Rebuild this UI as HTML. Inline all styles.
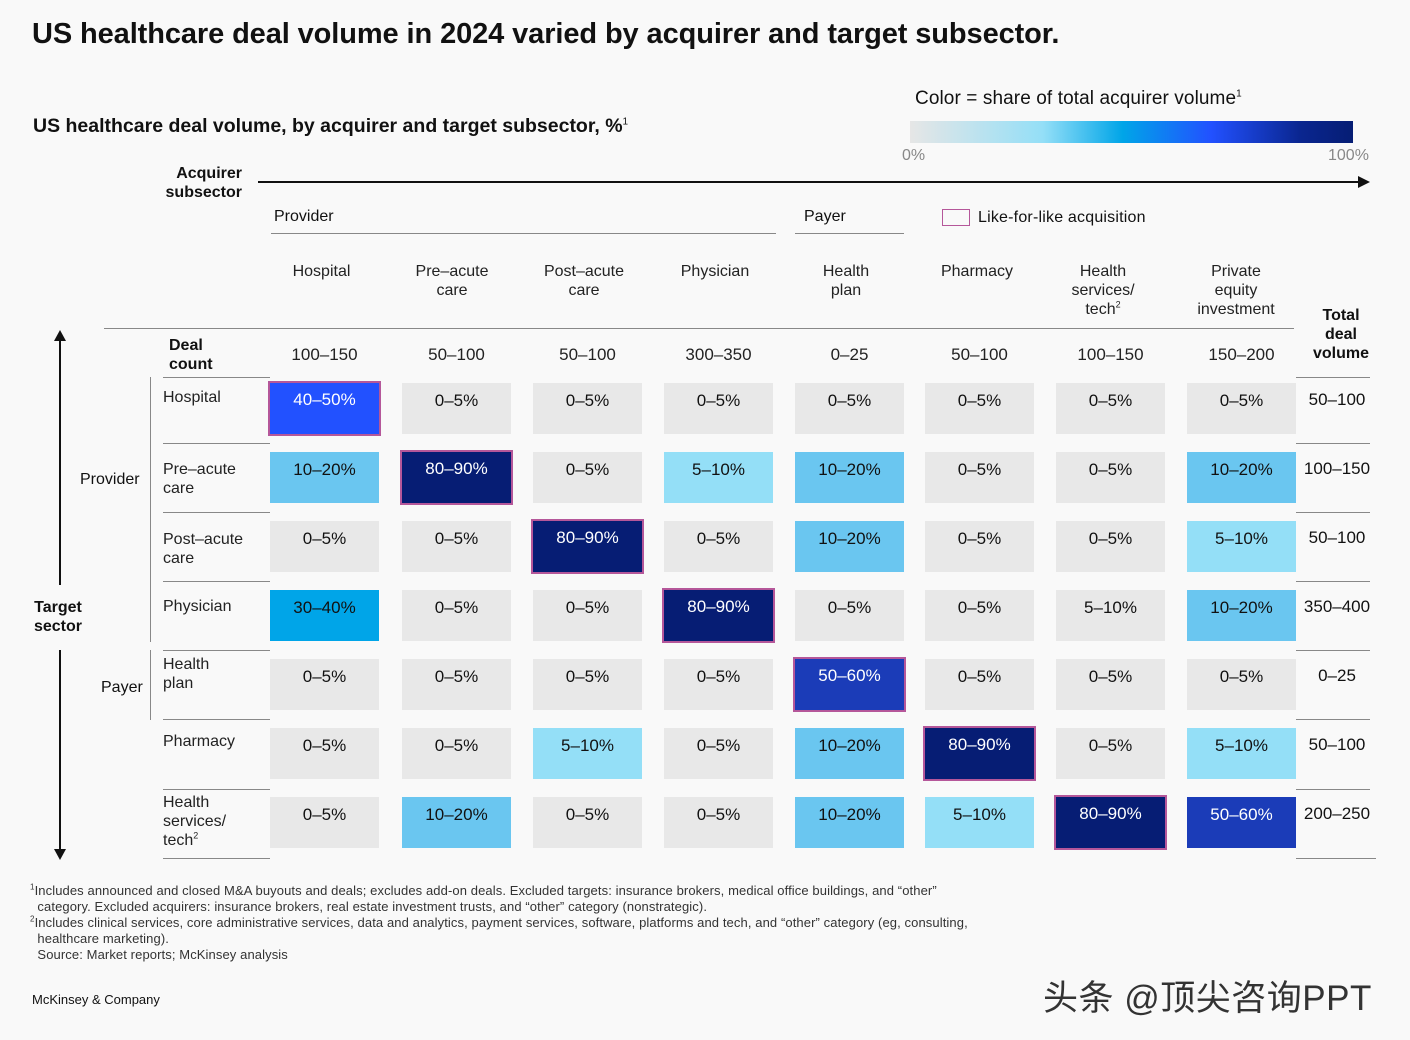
<!DOCTYPE html><html><head><meta charset="utf-8"><style>
body{margin:0;width:1410px;height:1040px;background:#f9f9f9;font-family:"Liberation Sans",Arial,sans-serif;color:#111;position:relative;overflow:hidden}
div{position:absolute}
.c{width:109px;height:51px;text-align:center;font-size:17px;line-height:35px;background:#e8e8e8;box-sizing:border-box}
.w{color:#fff}.b{border:2px solid #b5579a;line-height:33px}
.l5{background:#94dff7}.l10{background:#6ac6f0}.l30{background:#00a5e8;}.l40{background:#2251ff}.l50{background:#1b3cb8}.l80{background:#061d74}
.h{font-size:16px;text-align:center;line-height:19px;color:#222}
.r{font-size:16px;line-height:19px;color:#222}
.ln{height:1px;background:#888}
.t{font-size:17px;width:90px;text-align:center;left:1292px}
sup{line-height:0}
</style></head><body>
<div style="left:32px;top:18px;font-size:29px;font-weight:bold;letter-spacing:-0.1px">US healthcare deal volume in 2024 varied by acquirer and target subsector.</div>
<div style="left:33px;top:115px;font-size:19.5px;font-weight:bold;letter-spacing:0px">US healthcare deal volume, by acquirer and target subsector, %<sup style="font-size:10px;font-weight:normal">1</sup></div>
<div style="left:915px;top:88px;font-size:19px;letter-spacing:0.1px">Color = share of total acquirer volume<sup style="font-size:10px">1</sup></div>
<div style="left:910px;top:121px;width:443px;height:22px;background:linear-gradient(90deg,#e6e6e6 0%,#94dff7 30%,#00a5e8 48%,#2251ff 68%,#0a2690 88%,#061d74 100%)"></div>
<div style="left:902px;top:147px;font-size:16px;color:#888">0%</div>
<div style="left:1328px;top:147px;font-size:16px;color:#888">100%</div>
<div style="left:150px;top:164px;font-size:16px;font-weight:bold;text-align:right;width:92px;line-height:19px">Acquirer<br>subsector</div>
<div style="left:258px;top:181px;width:1100px;height:1.5px;background:#111"></div>
<div style="left:1358px;top:176px;width:0;height:0;border-left:12px solid #111;border-top:6px solid transparent;border-bottom:6px solid transparent"></div>
<div style="left:274px;top:208px;font-size:16px">Provider</div>
<div style="left:271px;top:233px;width:505px" class="ln"></div>
<div style="left:804px;top:208px;font-size:16px">Payer</div>
<div style="left:795px;top:233px;width:109px" class="ln"></div>
<div style="left:942px;top:209px;width:26px;height:15px;border:1.5px solid #b5579a"></div>
<div style="left:978px;top:209px;font-size:16px;letter-spacing:0.2px">Like-for-like acquisition</div>
<div class="h" style="left:270px;top:262px;width:103px">Hospital</div>
<div class="h" style="left:402px;top:262px;width:100px">Pre–acute<br>care</div>
<div class="h" style="left:533px;top:262px;width:102px">Post–acute<br>care</div>
<div class="h" style="left:664px;top:262px;width:102px">Physician</div>
<div class="h" style="left:795px;top:262px;width:102px">Health<br>plan</div>
<div class="h" style="left:925px;top:262px;width:104px">Pharmacy</div>
<div class="h" style="left:1056px;top:262px;width:94px">Health<br>services/<br>tech<sup style="font-size:9px">2</sup></div>
<div class="h" style="left:1187px;top:262px;width:98px">Private<br>equity<br>investment</div>
<div style="left:1300px;top:306px;width:82px;font-size:16px;font-weight:bold;text-align:center;line-height:19px">Total<br>deal<br>volume</div>
<div style="left:104px;top:328px;width:1190px" class="ln"></div>
<div style="left:169px;top:336px;font-size:16px;font-weight:bold;line-height:19px">Deal<br>count</div>
<div style="left:163px;top:377px;width:107px" class="ln"></div>
<div style="left:1296px;top:377px;width:74px" class="ln"></div>
<div class="h" style="left:270px;top:345px;width:109px;font-size:17px">100–150</div>
<div class="h" style="left:402px;top:345px;width:109px;font-size:17px">50–100</div>
<div class="h" style="left:533px;top:345px;width:109px;font-size:17px">50–100</div>
<div class="h" style="left:664px;top:345px;width:109px;font-size:17px">300–350</div>
<div class="h" style="left:795px;top:345px;width:109px;font-size:17px">0–25</div>
<div class="h" style="left:925px;top:345px;width:109px;font-size:17px">50–100</div>
<div class="h" style="left:1056px;top:345px;width:109px;font-size:17px">100–150</div>
<div class="h" style="left:1187px;top:345px;width:109px;font-size:17px">150–200</div>
<div style="left:59px;top:340px;width:1.5px;height:245px;background:#111"></div>
<div style="left:54px;top:330px;border-bottom:11px solid #111;border-left:6px solid transparent;border-right:6px solid transparent"></div>
<div style="left:59px;top:650px;width:1.5px;height:200px;background:#111"></div>
<div style="left:54px;top:849px;border-top:11px solid #111;border-left:6px solid transparent;border-right:6px solid transparent"></div>
<div style="left:22px;top:598px;width:72px;text-align:center;font-size:16px;font-weight:bold;line-height:19px">Target<br>sector</div>
<div style="left:80px;top:471px;font-size:16px">Provider</div>
<div style="left:101px;top:679px;font-size:16px">Payer</div>
<div style="left:150px;top:377px;width:1px;height:265px;background:#888"></div>
<div style="left:150px;top:650px;width:1px;height:70px;background:#888"></div>
<div class="r" style="left:163px;top:388px">Hospital</div>
<div class="r" style="left:163px;top:460px">Pre–acute<br>care</div>
<div class="r" style="left:163px;top:530px">Post–acute<br>care</div>
<div class="r" style="left:163px;top:597px">Physician</div>
<div class="r" style="left:163px;top:655px">Health<br>plan</div>
<div class="r" style="left:163px;top:732px">Pharmacy</div>
<div class="r" style="left:163px;top:793px">Health<br>services/<br>tech<sup style="font-size:9px">2</sup></div>
<div class="ln" style="left:163px;top:443px;width:107px"></div><div class="ln" style="left:1296px;top:443px;width:74px"></div>
<div class="ln" style="left:163px;top:512px;width:107px"></div><div class="ln" style="left:1296px;top:512px;width:74px"></div>
<div class="ln" style="left:163px;top:581px;width:107px"></div><div class="ln" style="left:1296px;top:581px;width:74px"></div>
<div class="ln" style="left:163px;top:650px;width:107px"></div><div class="ln" style="left:1296px;top:650px;width:74px"></div>
<div class="ln" style="left:163px;top:719px;width:107px"></div><div class="ln" style="left:1296px;top:719px;width:74px"></div>
<div class="ln" style="left:163px;top:789px;width:107px"></div><div class="ln" style="left:1296px;top:789px;width:74px"></div>
<div class="ln" style="left:163px;top:858px;width:107px"></div><div class="ln" style="left:1296px;top:858px;width:80px"></div>
<div class="c l40 w b" style="left:268px;top:381px;width:113px;height:55px">40–50%</div>
<div class="c" style="left:402px;top:383px">0–5%</div><div class="c" style="left:533px;top:383px">0–5%</div><div class="c" style="left:664px;top:383px">0–5%</div><div class="c" style="left:795px;top:383px">0–5%</div><div class="c" style="left:925px;top:383px">0–5%</div><div class="c" style="left:1056px;top:383px">0–5%</div><div class="c" style="left:1187px;top:383px">0–5%</div>
<div class="t" style="top:390px">50–100</div>
<div class="c l10" style="left:270px;top:452px">10–20%</div>
<div class="c l80 w b" style="left:400px;top:450px;width:113px;height:55px">80–90%</div>
<div class="c" style="left:533px;top:452px">0–5%</div><div class="c l5" style="left:664px;top:452px">5–10%</div><div class="c l10" style="left:795px;top:452px">10–20%</div><div class="c" style="left:925px;top:452px">0–5%</div><div class="c" style="left:1056px;top:452px">0–5%</div><div class="c l10" style="left:1187px;top:452px">10–20%</div>
<div class="t" style="top:459px">100–150</div>
<div class="c" style="left:270px;top:521px">0–5%</div><div class="c" style="left:402px;top:521px">0–5%</div>
<div class="c l80 w b" style="left:531px;top:519px;width:113px;height:55px">80–90%</div>
<div class="c" style="left:664px;top:521px">0–5%</div><div class="c l10" style="left:795px;top:521px">10–20%</div><div class="c" style="left:925px;top:521px">0–5%</div><div class="c" style="left:1056px;top:521px">0–5%</div><div class="c l5" style="left:1187px;top:521px">5–10%</div>
<div class="t" style="top:528px">50–100</div>
<div class="c l30" style="left:270px;top:590px">30–40%</div><div class="c" style="left:402px;top:590px">0–5%</div><div class="c" style="left:533px;top:590px">0–5%</div>
<div class="c l80 w b" style="left:662px;top:588px;width:113px;height:55px">80–90%</div>
<div class="c" style="left:795px;top:590px">0–5%</div><div class="c" style="left:925px;top:590px">0–5%</div><div class="c" style="left:1056px;top:590px">5–10%</div><div class="c l10" style="left:1187px;top:590px">10–20%</div>
<div class="t" style="top:597px">350–400</div>
<div class="c" style="left:270px;top:659px">0–5%</div><div class="c" style="left:402px;top:659px">0–5%</div><div class="c" style="left:533px;top:659px">0–5%</div><div class="c" style="left:664px;top:659px">0–5%</div>
<div class="c l50 w b" style="left:793px;top:657px;width:113px;height:55px">50–60%</div>
<div class="c" style="left:925px;top:659px">0–5%</div><div class="c" style="left:1056px;top:659px">0–5%</div><div class="c" style="left:1187px;top:659px">0–5%</div>
<div class="t" style="top:666px">0–25</div>
<div class="c" style="left:270px;top:728px">0–5%</div><div class="c" style="left:402px;top:728px">0–5%</div><div class="c l5" style="left:533px;top:728px">5–10%</div><div class="c" style="left:664px;top:728px">0–5%</div><div class="c l10" style="left:795px;top:728px">10–20%</div>
<div class="c l80 w b" style="left:923px;top:726px;width:113px;height:55px">80–90%</div>
<div class="c" style="left:1056px;top:728px">0–5%</div><div class="c l5" style="left:1187px;top:728px">5–10%</div>
<div class="t" style="top:735px">50–100</div>
<div class="c" style="left:270px;top:797px">0–5%</div><div class="c l10" style="left:402px;top:797px">10–20%</div><div class="c" style="left:533px;top:797px">0–5%</div><div class="c" style="left:664px;top:797px">0–5%</div><div class="c l10" style="left:795px;top:797px">10–20%</div><div class="c l5" style="left:925px;top:797px">5–10%</div>
<div class="c l80 w b" style="left:1054px;top:795px;width:113px;height:55px">80–90%</div>
<div class="c l50 w" style="left:1187px;top:797px">50–60%</div>
<div class="t" style="top:804px">200–250</div>
<div style="left:30px;top:883px;font-size:13px;line-height:16px;color:#333;width:1000px;letter-spacing:0.1px"><sup style="font-size:8px">1</sup>Includes announced and closed M&amp;A buyouts and deals; excludes add-on deals. Excluded targets: insurance brokers, medical office buildings, and “other”<br>&nbsp;&nbsp;category. Excluded acquirers: insurance brokers, real estate investment trusts, and “other” category (nonstrategic).<br><sup style="font-size:8px">2</sup>Includes clinical services, core administrative services, data and analytics, payment services, software, platforms and tech, and “other” category (eg, consulting,<br>&nbsp;&nbsp;healthcare marketing).<br>&nbsp;&nbsp;Source: Market reports; McKinsey analysis</div>
<div style="left:32px;top:992px;font-size:13px;color:#111">McKinsey &amp; Company</div>
<div style="left:1043px;top:970px;font-size:35px;color:#333;letter-spacing:0.5px;font-family:'Liberation Sans','Noto Sans CJK SC',sans-serif">头条 @顶尖咨询PPT</div>
</body></html>
